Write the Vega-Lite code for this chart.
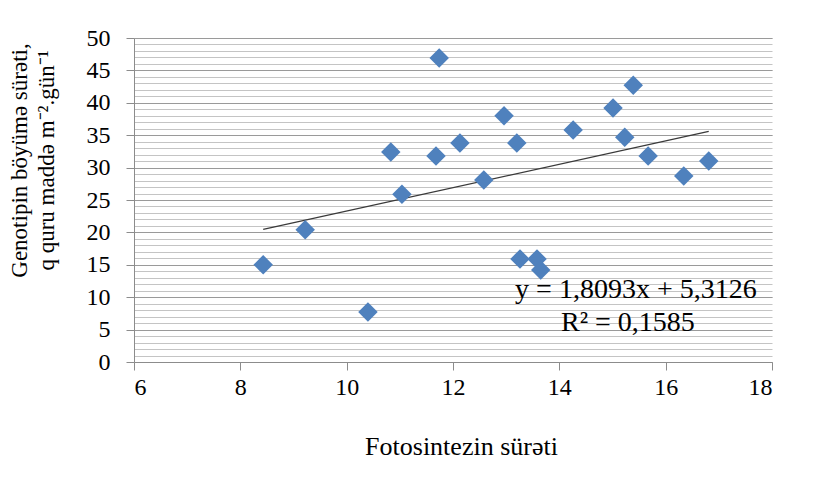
{
  "$schema": "https://vega.github.io/schema/vega-lite/v6.json",
  "width": 638,
  "height": 324,
  "autosize": "none",
  "padding": {"left": 134, "top": 38, "right": 41, "bottom": 134},
  "background": "white",
  "config": {
    "view": {"stroke": null},
    "font": "Liberation Serif",
    "axis": {"labelFont": "Liberation Serif", "titleFont": "Liberation Serif"},
    "text": {"font": "Liberation Serif"}
  },
  "data": {"values": [
    {"x": 8.43, "y": 15.0}, {"x": 9.22, "y": 20.4}, {"x": 10.40, "y": 7.7},
    {"x": 10.83, "y": 32.4}, {"x": 11.04, "y": 25.9}, {"x": 11.68, "y": 31.8},
    {"x": 11.74, "y": 46.9}, {"x": 12.13, "y": 33.8}, {"x": 12.58, "y": 28.1},
    {"x": 12.96, "y": 38.0}, {"x": 13.20, "y": 33.8}, {"x": 13.26, "y": 15.9},
    {"x": 13.58, "y": 15.9}, {"x": 13.65, "y": 14.2}, {"x": 14.26, "y": 35.8},
    {"x": 15.01, "y": 39.2}, {"x": 15.23, "y": 34.7}, {"x": 15.39, "y": 42.7},
    {"x": 15.67, "y": 31.8}, {"x": 16.34, "y": 28.7}, {"x": 16.81, "y": 31.0}
  ]},
  "resolve": {"axis": {"y": "independent"}},
  "layer": [
    {
      "transform": [{"regression": "y", "on": "x"}],
      "mark": {"type": "line", "color": "#3a3a3a", "strokeWidth": 1.3},
      "encoding": {
        "x": {"field": "x", "type": "quantitative", "scale": {"domain": [6, 18], "nice": false, "zero": false},
          "axis": {"values": [6, 8, 10, 12, 14, 16, 18], "grid": false, "tickSize": 8, "tickColor": "#8c8c8c", "domainColor": "#8c8c8c",
            "labelFont": "Liberation Serif", "labelFontSize": 24, "labelColor": "#000", "labelPadding": 5,
            "title": "Fotosintezin sürəti", "titleFont": "Liberation Serif", "titleFontSize": 26, "titleFontWeight": "normal", "titleColor": "#000", "titlePadding": 34, "titleX": 327}},
        "y": {"field": "y", "type": "quantitative", "scale": {"domain": [0, 50], "nice": false},
          "axis": {"orient": "left", "values": [0,1,2,3,4,5,6,7,8,9,10,11,12,13,14,15,16,17,18,19,20,21,22,23,24,25,26,27,28,29,30,31,32,33,34,35,36,37,38,39,40,41,42,43,44,45,46,47,48,49,50],
            "grid": true, "gridColor": "#c4c4c4", "gridWidth": 1, "labels": false, "ticks": false, "domain": false, "title": null}}
      }
    },
    {
      "mark": {"type": "point", "shape": "diamond", "filled": true, "size": 380, "color": "#4F81BD", "opacity": 1},
      "encoding": {
        "x": {"field": "x", "type": "quantitative"},
        "y": {"field": "y", "type": "quantitative",
          "axis": {"orient": "left", "values": [0, 5, 10, 15, 20, 25, 30, 35, 40, 45, 50], "grid": true, "gridColor": "#9a9a9a", "gridWidth": 1.2,
            "tickSize": 8, "tickColor": "#8c8c8c", "domainColor": "#8c8c8c",
            "labelFont": "Liberation Serif", "labelFontSize": 24, "labelColor": "#000", "labelPadding": 16,
            "title": ["Genotipin böyümə sürəti,", "q quru maddə m⁻².gün⁻¹"], "titleFont": "Liberation Serif", "titleFontSize": 23, "titleFontWeight": "normal", "titleColor": "#000",
            "titleLineHeight": 27, "titleAngle": -90, "titleAlign": "center", "titleBaseline": "middle", "titleX": -115, "titleY": 122}}
      }
    },
    {
      "data": {"values": [{"label": "y = 1,8093x + 5,3126"}]},
      "mark": {"type": "text", "font": "Liberation Serif", "fontSize": 28, "color": "#000", "align": "center", "baseline": "middle"},
      "encoding": {
        "x": {"datum": 15.44, "type": "quantitative"},
        "y": {"datum": 11.1, "type": "quantitative", "axis": null},
        "text": {"field": "label"}
      }
    },
    {
      "data": {"values": [{"label": "R² = 0,1585"}]},
      "mark": {"type": "text", "font": "Liberation Serif", "fontSize": 28, "color": "#000", "align": "center", "baseline": "middle"},
      "encoding": {
        "x": {"datum": 15.29, "type": "quantitative"},
        "y": {"datum": 6.0, "type": "quantitative", "axis": null},
        "text": {"field": "label"}
      }
    }
  ]
}
